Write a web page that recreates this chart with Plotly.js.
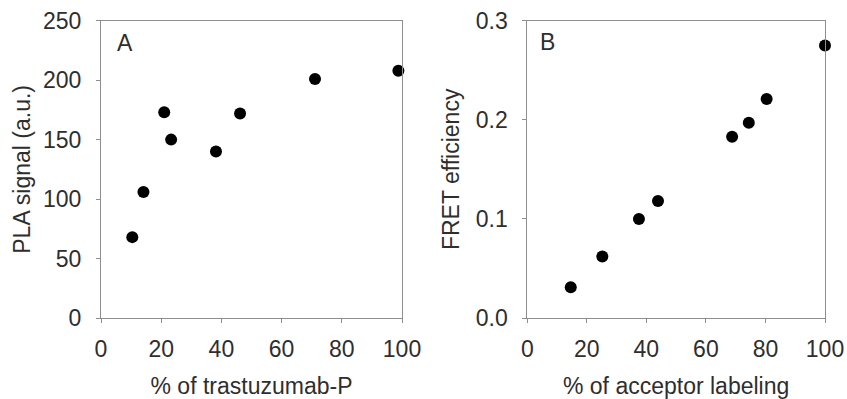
<!DOCTYPE html>
<html>
<head>
<meta charset="utf-8">
<script src="https://cdn.plot.ly/plotly-3.0.1.min.js"></script>
<style>html,body{margin:0;padding:0;background:#fff;}#chart{width:847px;height:399px;}</style>
</head>
<body>
<div id="chart"></div>
<script>
// Panel A: PLA signal vs % of trastuzumab-P
const trastuzumabPct = [10.4, 14.1, 21.0, 23.3, 38.2, 46.2, 71.1, 98.8];
const plaSignal = [68, 106, 173, 150, 140, 172, 201, 208];

// Panel B: FRET efficiency vs % of acceptor labeling
const acceptorPct = [14.6, 25.2, 37.5, 43.9, 68.8, 74.4, 80.4, 100];
const fretEfficiency = [0.031, 0.062, 0.100, 0.118, 0.183, 0.197, 0.221, 0.275];

const xTicksA = [0, 20, 40, 60, 80, 100];
const yTicksA = [0, 50, 100, 150, 200, 250];
const xTicksB = [0, 20, 40, 60, 80, 100];
const yTicksB = [0.0, 0.1, 0.2, 0.3];

const panelLabels = ['A', 'B'];
const xTitles = ['% of trastuzumab-P', '% of acceptor labeling'];
const yTitles = ['PLA signal (a.u.)', 'FRET efficiency'];

const fontFamily = '"Liberation Sans", Arial, sans-serif';
const textColor = '#2e2e2e';
const frameColor = '#8e8e8e';
const fontSize = 23;

const marker = {color: '#000000', size: 12, line: {width: 0}};

const traces = [
  {x: trastuzumabPct, y: plaSignal, type: 'scatter', mode: 'markers', marker: marker, xaxis: 'x', yaxis: 'y', showlegend: false, cliponaxis: false},
  {x: acceptorPct, y: fretEfficiency, type: 'scatter', mode: 'markers', marker: marker, xaxis: 'x2', yaxis: 'y2', showlegend: false, cliponaxis: false}
];

function axisBase(tickvals, range, titleText, fmt, standoffLabels) {
  return {
    range: range,
    tickmode: 'array',
    tickvals: tickvals,
    tickformat: fmt,
    ticks: 'outside',
    ticklen: 4,
    tickcolor: frameColor,
    tickwidth: 1,
    ticklabelstandoff: standoffLabels,
    showline: true,
    linecolor: frameColor,
    linewidth: 1,
    mirror: true,
    showgrid: false,
    zeroline: false,
    tickfont: {family: fontFamily, size: fontSize, color: textColor},
    title: {text: titleText, font: {family: fontFamily, size: fontSize, color: textColor}},
    fixedrange: true
  };
}

const yDom = [(399 - 318) / 399, (399 - 20.7) / 399];

const yA = axisBase(yTicksA, [0, 250], yTitles[0], 'd', 10);
yA.title.standoff = 5;
const yB = axisBase(yTicksB, [0, 0.3], yTitles[1], '.1f', 10);
yB.title.standoff = 9;

const layout = {
  width: 847,
  height: 399,
  margin: {l: 0, r: 0, t: 0, b: 0},
  paper_bgcolor: '#ffffff',
  plot_bgcolor: '#ffffff',
  font: {family: fontFamily, color: textColor},
  xaxis: Object.assign(axisBase(xTicksA, [0, 100], xTitles[0], 'd', 6), {domain: [101 / 847, 402 / 847], anchor: 'y'}),
  yaxis: Object.assign(yA, {domain: yDom, anchor: 'x'}),
  xaxis2: Object.assign(axisBase(xTicksB, [0, 100], xTitles[1], 'd', 6), {domain: [527.3 / 847, 825 / 847], anchor: 'y2'}),
  yaxis2: Object.assign(yB, {domain: yDom, anchor: 'x2'}),
  annotations: [
    {text: panelLabels[0], xref: 'x domain', yref: 'y domain', x: 0.045, y: 0.925, xanchor: 'left', yanchor: 'middle', showarrow: false, font: {family: fontFamily, size: fontSize, color: textColor}},
    {text: panelLabels[1], xref: 'x2 domain', yref: 'y2 domain', x: 0.035, y: 0.93, xanchor: 'left', yanchor: 'middle', showarrow: false, font: {family: fontFamily, size: fontSize, color: textColor}}
  ]
};

Plotly.newPlot('chart', traces, layout, {staticPlot: true, displayModeBar: false});
</script>
</body>
</html>
